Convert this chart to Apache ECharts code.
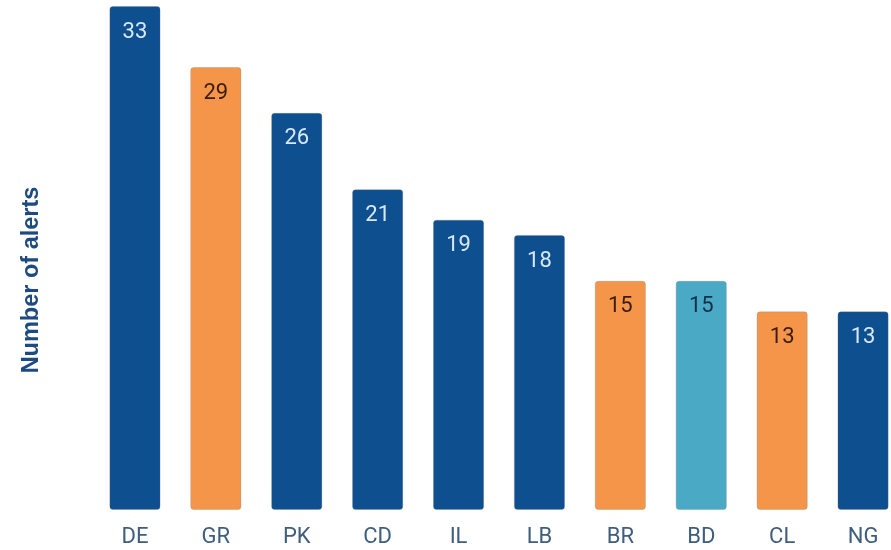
<!DOCTYPE html>
<html>
<head>
<meta charset="utf-8">
<script src="https://cdn.jsdelivr.net/npm/echarts@6/dist/echarts.min.js"></script>
<style>html,body{margin:0;padding:0;background:#fff}#c{width:891px;height:550px}</style>
</head>
<body>
<div id="c"></div>
<script>
const categories = ["DE","GR","PK","CD","IL","LB","BR","BD","CL","NG"];
const values = [33,29,26,21,19,18,15,15,13,13];
const groups = ["dark","orange","dark","dark","dark","dark","orange","light","orange","dark"];
const yTitle = "Number of alerts";

const palette = {
  dark: {bar:"#0e4f90", label:"#d9e8f6"},
  orange: {bar:"#f5954a", label:"#3a1d08"},
  light: {bar:"#4aa9c5", label:"#13304a"}
};

const chart = echarts.init(document.getElementById('c'));
chart.setOption({
  animation:false,
  grid:{left:94.5, width:809, top:6, bottom:40, outerBoundsMode:'none', containLabel:false},
  xAxis:{
    type:'category', data:categories,
    axisLine:{show:false}, axisTick:{show:false},
    axisLabel:{color:'#3f5d7c', fontSize:22, fontFamily:'Roboto', margin:16}
  },
  yAxis:{
    type:'value', min:0, max:33,
    axisLine:{show:false}, axisTick:{show:false}, axisLabel:{show:false}, splitLine:{show:false}
  },
  graphic:[{
    type:'text', x:32, y:280, rotation:Math.PI/2,
    style:{text:yTitle, fill:'#1d4a80', font:'bold 23.5px "Liberation Sans"', align:'center', verticalAlign:'middle'}
  }],
  series:[{
    type:'bar',
    barWidth:51,
    data: values.map((v,i)=>({
      value:v,
      itemStyle:{color:palette[groups[i]].bar, borderRadius:3, borderColor:'rgba(120,120,120,0.35)', borderWidth:0.8},
      label:{color:palette[groups[i]].label}
    })),
    label:{show:true, position:'insideTop', distance:15, fontSize:22, fontFamily:'Roboto'}
  }]
});
</script>
</body>
</html>
